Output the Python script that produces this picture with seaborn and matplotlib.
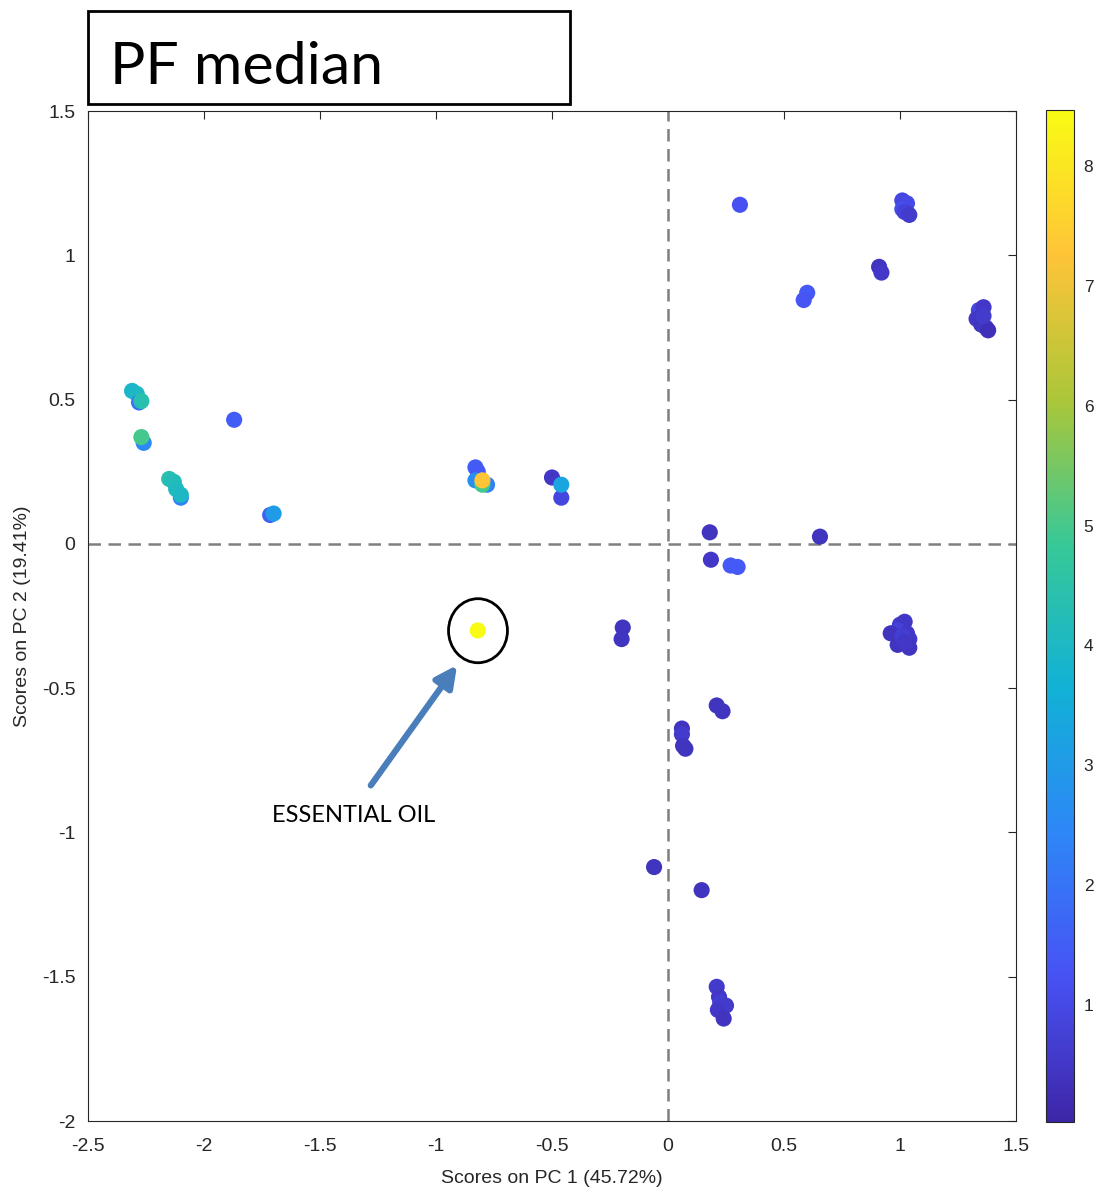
import numpy as np
import pandas as pd
import matplotlib
matplotlib.use("Agg")
import matplotlib.pyplot as plt
from matplotlib.colors import LinearSegmentedColormap, Normalize
from matplotlib.cm import ScalarMappable
from matplotlib.patches import Ellipse, Rectangle
import seaborn as sns

# PCA scores (PC1, PC2) and the coloured median value of each sample
pc1 = [1.01, 1.03, 1.01, 1.02, 1.04,
       0.91, 0.92,
       1.34, 1.36, 1.33, 1.35, 1.37, 1.38, 1.36,
       0.31,
       0.60, 0.585,
       -2.31, -2.29, -2.28, -2.27,
       -2.26, -2.27,
       -1.87,
       -2.15, -2.13, -2.12, -2.10, -2.10,
       -1.715, -1.70,
       -0.83, -0.82, -0.83, -0.78, -0.80, -0.80,
       -0.50, -0.46, -0.46,
       -0.82,
       0.18, 0.655, 0.185, 0.27, 0.30,
       -0.195, -0.20,
       0.21, 0.235,
       0.06, 0.06, 0.065, 0.075,
       -0.06, 0.145,
       0.21, 0.22, 0.225, 0.25, 0.215, 0.24,
       1.00, 1.02, 0.99, 1.03, 0.96, 0.99, 1.04, 1.04, 1.01, 1.02]
pc2 = [1.19, 1.18, 1.16, 1.15, 1.14,
       0.96, 0.94,
       0.81, 0.82, 0.78, 0.76, 0.75, 0.74, 0.79,
       1.175,
       0.87, 0.845,
       0.53, 0.52, 0.49, 0.495,
       0.35, 0.37,
       0.43,
       0.225, 0.215, 0.19, 0.16, 0.17,
       0.10, 0.105,
       0.265, 0.25, 0.22, 0.205, 0.205, 0.22,
       0.23, 0.16, 0.205,
       -0.30,
       0.04, 0.025, -0.055, -0.075, -0.08,
       -0.29, -0.33,
       -0.56, -0.58,
       -0.64, -0.66, -0.70, -0.71,
       -1.12, -1.20,
       -1.535, -1.57, -1.59, -1.60, -1.615, -1.645,
       -0.28, -0.27, -0.30, -0.31, -0.31, -0.35, -0.33, -0.36, -0.32, -0.34]
value = [0.9, 1.0, 1.1, 0.8, 0.6,
         0.4, 0.5,
         0.9, 0.5, 0.5, 0.4, 0.5, 0.3, 0.6,
         1.2,
         1.4, 1.3,
         3.9, 4.0, 2.0, 4.4,
         2.5, 5.0,
         1.5,
         4.4, 4.2, 4.1, 2.3, 4.0,
         1.6, 3.0,
         1.5, 1.4, 2.6, 2.3, 5.0, 7.3,
         0.5, 0.9, 3.3,
         8.47,
         0.4, 0.4, 0.5, 1.4, 1.4,
         0.4, 0.4,
         0.4, 0.4,
         0.4, 0.6, 0.4, 0.4,
         0.4, 0.4,
         0.6, 0.5, 0.7, 0.6, 0.5, 0.4,
         0.6, 0.5, 0.8, 0.5, 0.4, 0.4, 0.5, 0.4, 0.7, 0.5]

x_ticks = [-2.5, -2, -1.5, -1, -0.5, 0, 0.5, 1, 1.5]
y_ticks = [-2, -1.5, -1, -0.5, 0, 0.5, 1, 1.5]
x_tick_labels = ["-2.5", "-2", "-1.5", "-1", "-0.5", "0", "0.5", "1", "1.5"]
y_tick_labels = ["-2", "-1.5", "-1", "-0.5", "0", "0.5", "1", "1.5"]
cbar_ticks = [1, 2, 3, 4, 5, 6, 7, 8]

df = pd.DataFrame({"pc1": pc1, "pc2": pc2, "value": value})

# parula-like colormap
parula_anchors = [(0.2422, 0.1504, 0.6603), (0.2810, 0.3228, 0.9579),
                  (0.1786, 0.5289, 0.9682), (0.0689, 0.6948, 0.8394),
                  (0.2161, 0.7843, 0.5923), (0.6720, 0.7793, 0.2227),
                  (0.9970, 0.7659, 0.2199), (0.9769, 0.9839, 0.0805)]
parula = LinearSegmentedColormap.from_list("parula", parula_anchors, N=256)
norm = Normalize(vmin=0.02, vmax=8.47)

sns.set_style("white")
plt.rcParams["font.family"] = ["Liberation Sans", "DejaVu Sans"]

W, H = 1097, 1189
fig = plt.figure(figsize=(W / 100, H / 100), dpi=100)
ax = fig.add_axes([88 / W, 1 - 1121 / H, 928 / W, 1010 / H])

ax.axvline(0, color="#7f7f7f", lw=1.8, ls=(0, (5, 3)), zorder=1)
ax.axhline(0, color="#7f7f7f", lw=1.8, ls=(0, (5, 3)), zorder=1)

sns.scatterplot(data=df, x="pc1", y="pc2", hue="value", palette=parula,
                hue_norm=norm, s=135, linewidth=0, legend=False, ax=ax,
                zorder=3)

ax.set_xlim(-2.5, 1.5)
ax.set_ylim(-2, 1.5)
ax.set_xticks(x_ticks, x_tick_labels)
ax.set_yticks(y_ticks, y_tick_labels)
text_col = "#262626"
ax.tick_params(axis="both", direction="in", length=6, width=0.8, top=True,
               right=True, labelsize=14, colors=text_col)
ax.tick_params(axis="x", pad=12)
ax.tick_params(axis="y", pad=9)
for sp in ax.spines.values():
    sp.set_color("#262626")
    sp.set_linewidth(0.8)
ax.set_xlabel("Scores on PC 1 (45.72%)", fontsize=14, color=text_col, labelpad=11)
ax.set_ylabel("Scores on PC 2 (19.41%)", fontsize=14, color=text_col, labelpad=8)

# highlight of the essential oil sample
ax.add_patch(Ellipse((-0.819, -0.301), 0.254, 0.222, fill=False,
                     edgecolor="black", lw=2, zorder=4))
ax.annotate("", xy=(-0.909, -0.420), xytext=(-1.281, -0.837),
            arrowprops=dict(arrowstyle="-|>", color="#4a7ebb", lw=4.5,
                            mutation_scale=32, shrinkA=0, shrinkB=0),
            zorder=4)
ax.text(-1.707, -0.942, "ESSENTIAL OIL", fontsize=17, family=["Lato", "DejaVu Sans"],
        ha="left", va="center", color="black")

# colorbar
cax = fig.add_axes([1046 / W, 1 - 1122 / H, 28 / W, 1012 / H])
cb = fig.colorbar(ScalarMappable(norm=norm, cmap=parula), cax=cax)
cb.set_ticks(cbar_ticks)
cb.ax.tick_params(direction="in", length=6, width=0.8, labelsize=12.5,
                  colors=text_col, pad=7)
cb.outline.set_edgecolor("#262626")
cb.outline.set_linewidth(0.8)

# title box
fig.add_artist(Rectangle((88 / W, 1 - 104 / H), 482 / W, 93 / H,
                         transform=fig.transFigure, fill=False,
                         edgecolor="black", lw=2))
fig.text(110 / W, 1 - 67 / H, "PF median", fontsize=42.5,
         family=["Lato", "DejaVu Sans"], ha="left", va="center", color="black")

fig.savefig("out.png", dpi=100)
